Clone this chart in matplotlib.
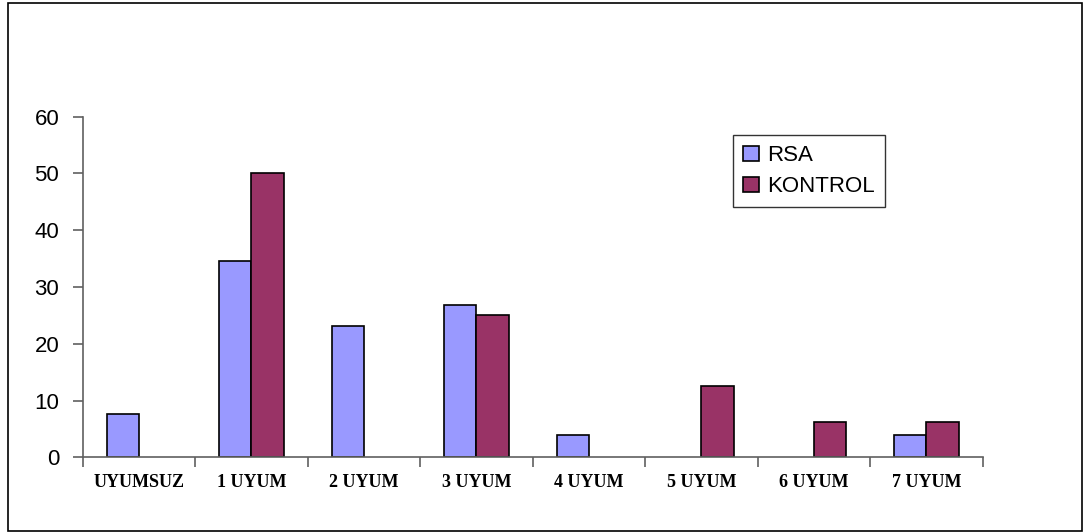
import numpy as np
import matplotlib
matplotlib.use('Agg')
import matplotlib.pyplot as plt
from matplotlib.patches import Rectangle

# --- Data (percent of each group) ---
categories = ['UYUMSUZ', '1 UYUM', '2 UYUM', '3 UYUM', '4 UYUM', '5 UYUM', '6 UYUM', '7 UYUM']
rsa = [7.69, 34.6, 23.1, 26.9, 3.85, 0, 0, 3.85]
kontrol = [0, 50, 0, 25, 0, 12.5, 6.25, 6.25]
series_names = ['RSA', 'KONTROL']
y_ticks = [0, 10, 20, 30, 40, 50, 60]

rsa_color = '#9999FF'
kontrol_color = '#993366'
axis_color = '#606060'

fig = plt.figure(figsize=(10.86, 5.32), dpi=100)
ax = fig.add_axes([0.0762, 0.1404, 0.8287, 0.6402])

x = np.arange(len(categories))
width = 1 / 3.5  # two bars plus 150% gap per category

# zero values are left empty, like the original spreadsheet chart
rsa_h = np.where(np.array(rsa) > 0, rsa, np.nan)
kon_h = np.where(np.array(kontrol) > 0, kontrol, np.nan)
ax.bar(x - width / 2, rsa_h, width, color=rsa_color, edgecolor='black', linewidth=1.2, label=series_names[0])
ax.bar(x + width / 2, kon_h, width, color=kontrol_color, edgecolor='black', linewidth=1.2, label=series_names[1])

ax.set_xlim(-0.5, len(categories) - 0.5)
ax.set_ylim(0, 60)

# spines
for s in ['top', 'right']:
    ax.spines[s].set_visible(False)
for s in ['left', 'bottom']:
    ax.spines[s].set_color(axis_color)
    ax.spines[s].set_linewidth(1.2)

# y axis
ax.set_yticks(y_ticks)
ax.tick_params(axis='y', direction='out', length=7, width=1.2, color=axis_color,
               pad=10, labelsize=16)
for lab in ax.get_yticklabels():
    lab.set_fontfamily('Liberation Sans')

# x axis: labels at centers, ticks at category boundaries
ax.set_xticks(x)
ax.set_xticklabels(categories, fontfamily='Liberation Serif', fontweight='bold', fontsize=13)
ax.tick_params(axis='x', which='major', length=0, pad=12)
ax.set_xticks(np.arange(-0.5, len(categories)), minor=True)
ax.tick_params(axis='x', which='minor', direction='out', length=7, width=1.2, color=axis_color)

leg = ax.legend(loc='upper left', bbox_to_anchor=(0.7226, 0.946), borderaxespad=0,
                fancybox=False, frameon=True, edgecolor='black',
                prop={'family': 'Liberation Sans', 'size': 16},
                handlelength=0.7, handleheight=0.7, handletextpad=0.4,
                labelspacing=0.45, borderpad=0.45)
leg.get_frame().set_linewidth(1.0)

# outer border around the whole chart
fig.patches.append(Rectangle((0.0074, 0.002), 0.9889, 0.9924, transform=fig.transFigure,
                             fill=False, edgecolor='black', linewidth=1.2))

fig.savefig('out.png', dpi=100)
